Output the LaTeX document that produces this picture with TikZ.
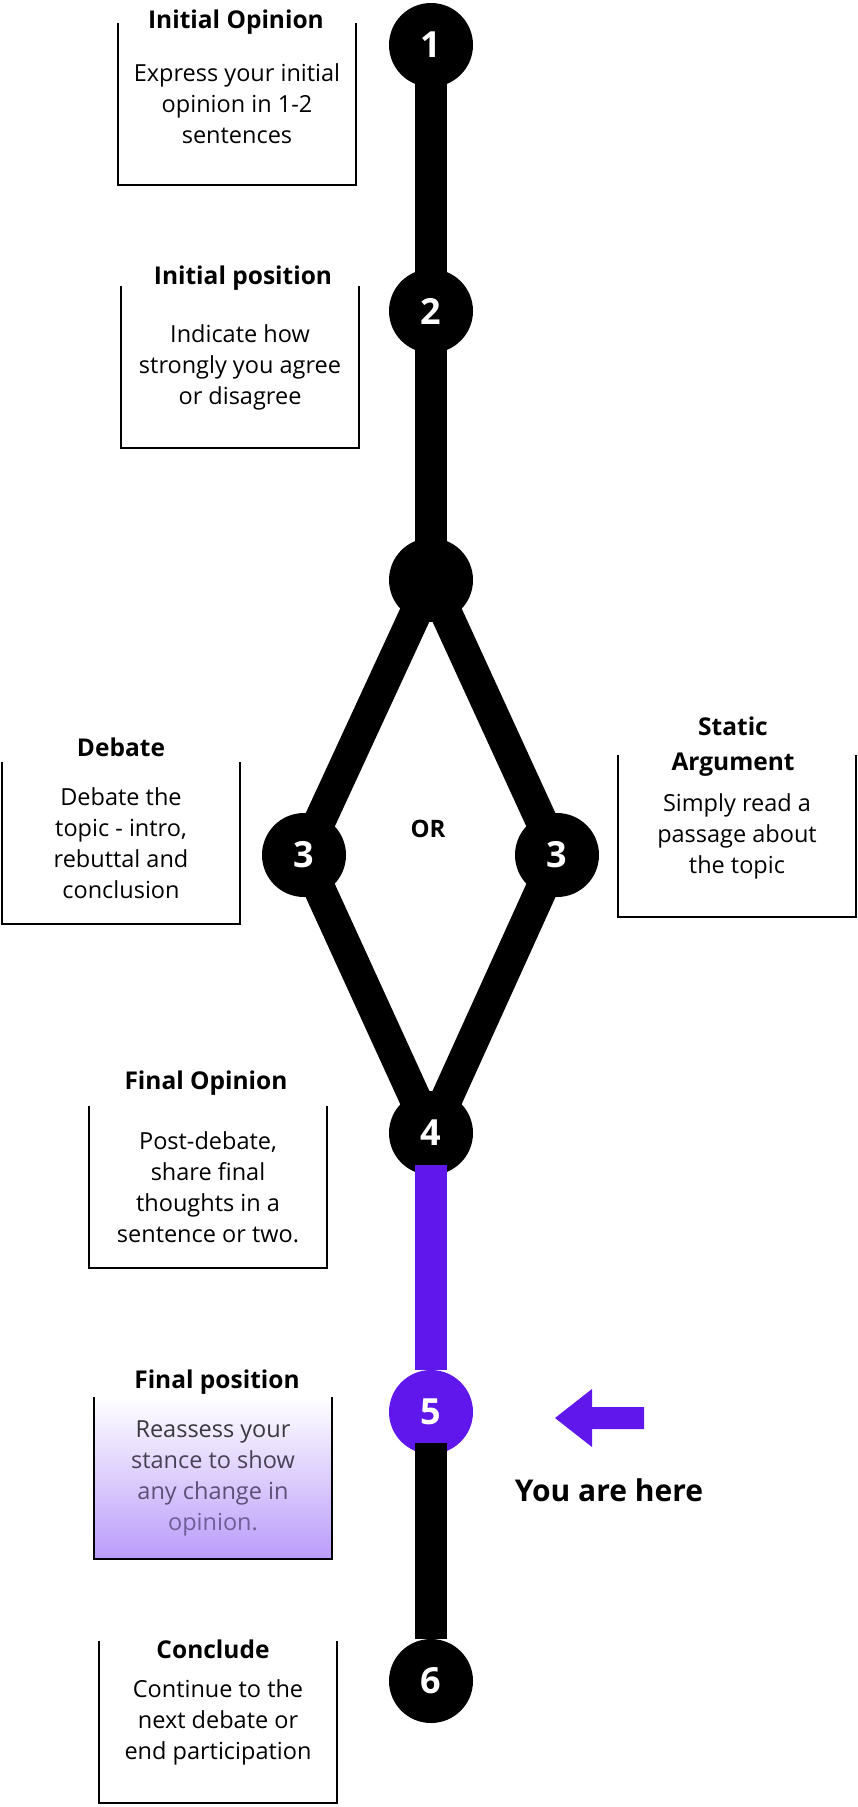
\documentclass[tikz,border=0pt]{standalone}
\usepackage{fontspec}
\setmainfont{Open Sans}
\usepackage{tikz}
\usetikzlibrary{backgrounds}

\definecolor{hereviolet}{RGB}{95,23,235}
\definecolor{fadebottom}{RGB}{186,156,250}
\definecolor{fpA}{RGB}{58,56,64}
\definecolor{fpB}{RGB}{72,66,88}
\definecolor{fpC}{RGB}{92,80,120}
\definecolor{fpD}{RGB}{112,94,152}

\tikzset{
  milestone/.style={circle, fill=black, minimum size=84pt, inner sep=0pt, text=white,
    font=\fontsize{36}{36}\selectfont\bfseries},
  bar/.style={line width=32pt},
  boxline/.style={line width=1.6pt, line join=miter},
  title/.style={font=\fontsize{24.5}{35}\selectfont\bfseries, align=center},
  body/.style={font=\fontsize{23.5}{31}\selectfont, align=center, minimum width=238pt,
    minimum height=162pt, inner sep=0pt},
}

\begin{document}
\begin{tikzpicture}[x=1pt,y=-1pt]
\useasboundingbox (0,0) rectangle (858,1807);

% path of milestones
\node[milestone] (n1) at (431,45) {1};
\node[milestone] (n2) at (431,311) {2};
\node[milestone] (nj) at (431,580) {};
\node[milestone] (n3l) at (304,855) {3};
\node[milestone] (n3r) at (557,855) {3};
\node[milestone] (n4) at (431,1133) {4};
\node[milestone, fill=hereviolet] (n5) at (431,1412) {5};
\node[milestone] (n6) at (431,1681) {6};

\begin{scope}[on background layer]
\draw[bar] (n1.center) -- (n2.center) -- (nj.center);
\draw[bar, line join=round] (nj.center) -- (n3l.center) -- (n4.center);
\draw[bar, line join=round] (nj.center) -- (n3r.center) -- (n4.center);
\end{scope}
\draw[bar, hereviolet, shorten <=32pt, shorten >=42pt] (n4.center) -- (n5.center);
\draw[bar, shorten <=31pt, shorten >=42pt] (n5.center) -- (n6.center);

\node[font=\fontsize{24}{24}\selectfont\bfseries] (or) at (428,829) {OR};

% boxes
\node[body] (b1) at (237,104) {Express your initial\\opinion in 1-2\\sentences};
\node[title] (t1) at (236,22) {Initial Opinion};
\draw[boxline] (b1.north west) -- (b1.south west) -- (b1.south east) -- (b1.north east);

\node[body] (b2) at (240,367) {Indicate how\\strongly you agree\\or disagree};
\node[title] (t2) at (243,278) {Initial position};
\draw[boxline] (b2.north west) |- (b2.south east) -- (b2.north east);

\node[body] (b3l) at (121,843) {Debate the\\topic - intro,\\rebuttal and\\conclusion};
\node[title] (t3l) at (121,747) {Debate};
\draw[boxline] (b3l.north west) |- (b3l.south east) -- (b3l.north east);

\node[body] (b3r) at (737,836) {Simply read a\\passage about\\the topic};
\node[title] (t3r) at (733,747) {Static\\Argument};
\draw[boxline] (b3r.north west) |- (b3r.south east) -- (b3r.north east);

\node[body] (b4) at (208,1187) {Post-debate,\\share final\\thoughts in a\\sentence or two.};
\node[title] (t4) at (206,1083) {Final Opinion};
\draw[boxline] (b4.north west) |- (b4.south east) -- (b4.north east);

\node[body, top color=white, bottom color=fadebottom] (b5) at (213,1478)
  {{\color{fpA}Reassess your}\\{\color{fpB}stance to show}\\{\color{fpC}any change in}\\{\color{fpD}opinion.}};
\node[title] (t5) at (217,1382) {Final position};
\draw[boxline] (b5.north west) |- (b5.south east) -- (b5.north east);

\node[body] (b6) at (218,1722) {Continue to the\\next debate or\\end participation};
\node[title] (t6) at (213,1649) {Conclude};
\draw[boxline] (b6.north west) |- (b6.south east) -- (b6.north east);

% you are here
\fill[hereviolet] (555,1418) -- (592,1389) -- (592,1407) -- (644,1407) -- (644,1429)
  -- (592,1429) -- (592,1447) -- cycle;
\node[font=\fontsize{30}{30}\selectfont\bfseries] (here) at (609,1490) {You are here};
\end{tikzpicture}
\end{document}
